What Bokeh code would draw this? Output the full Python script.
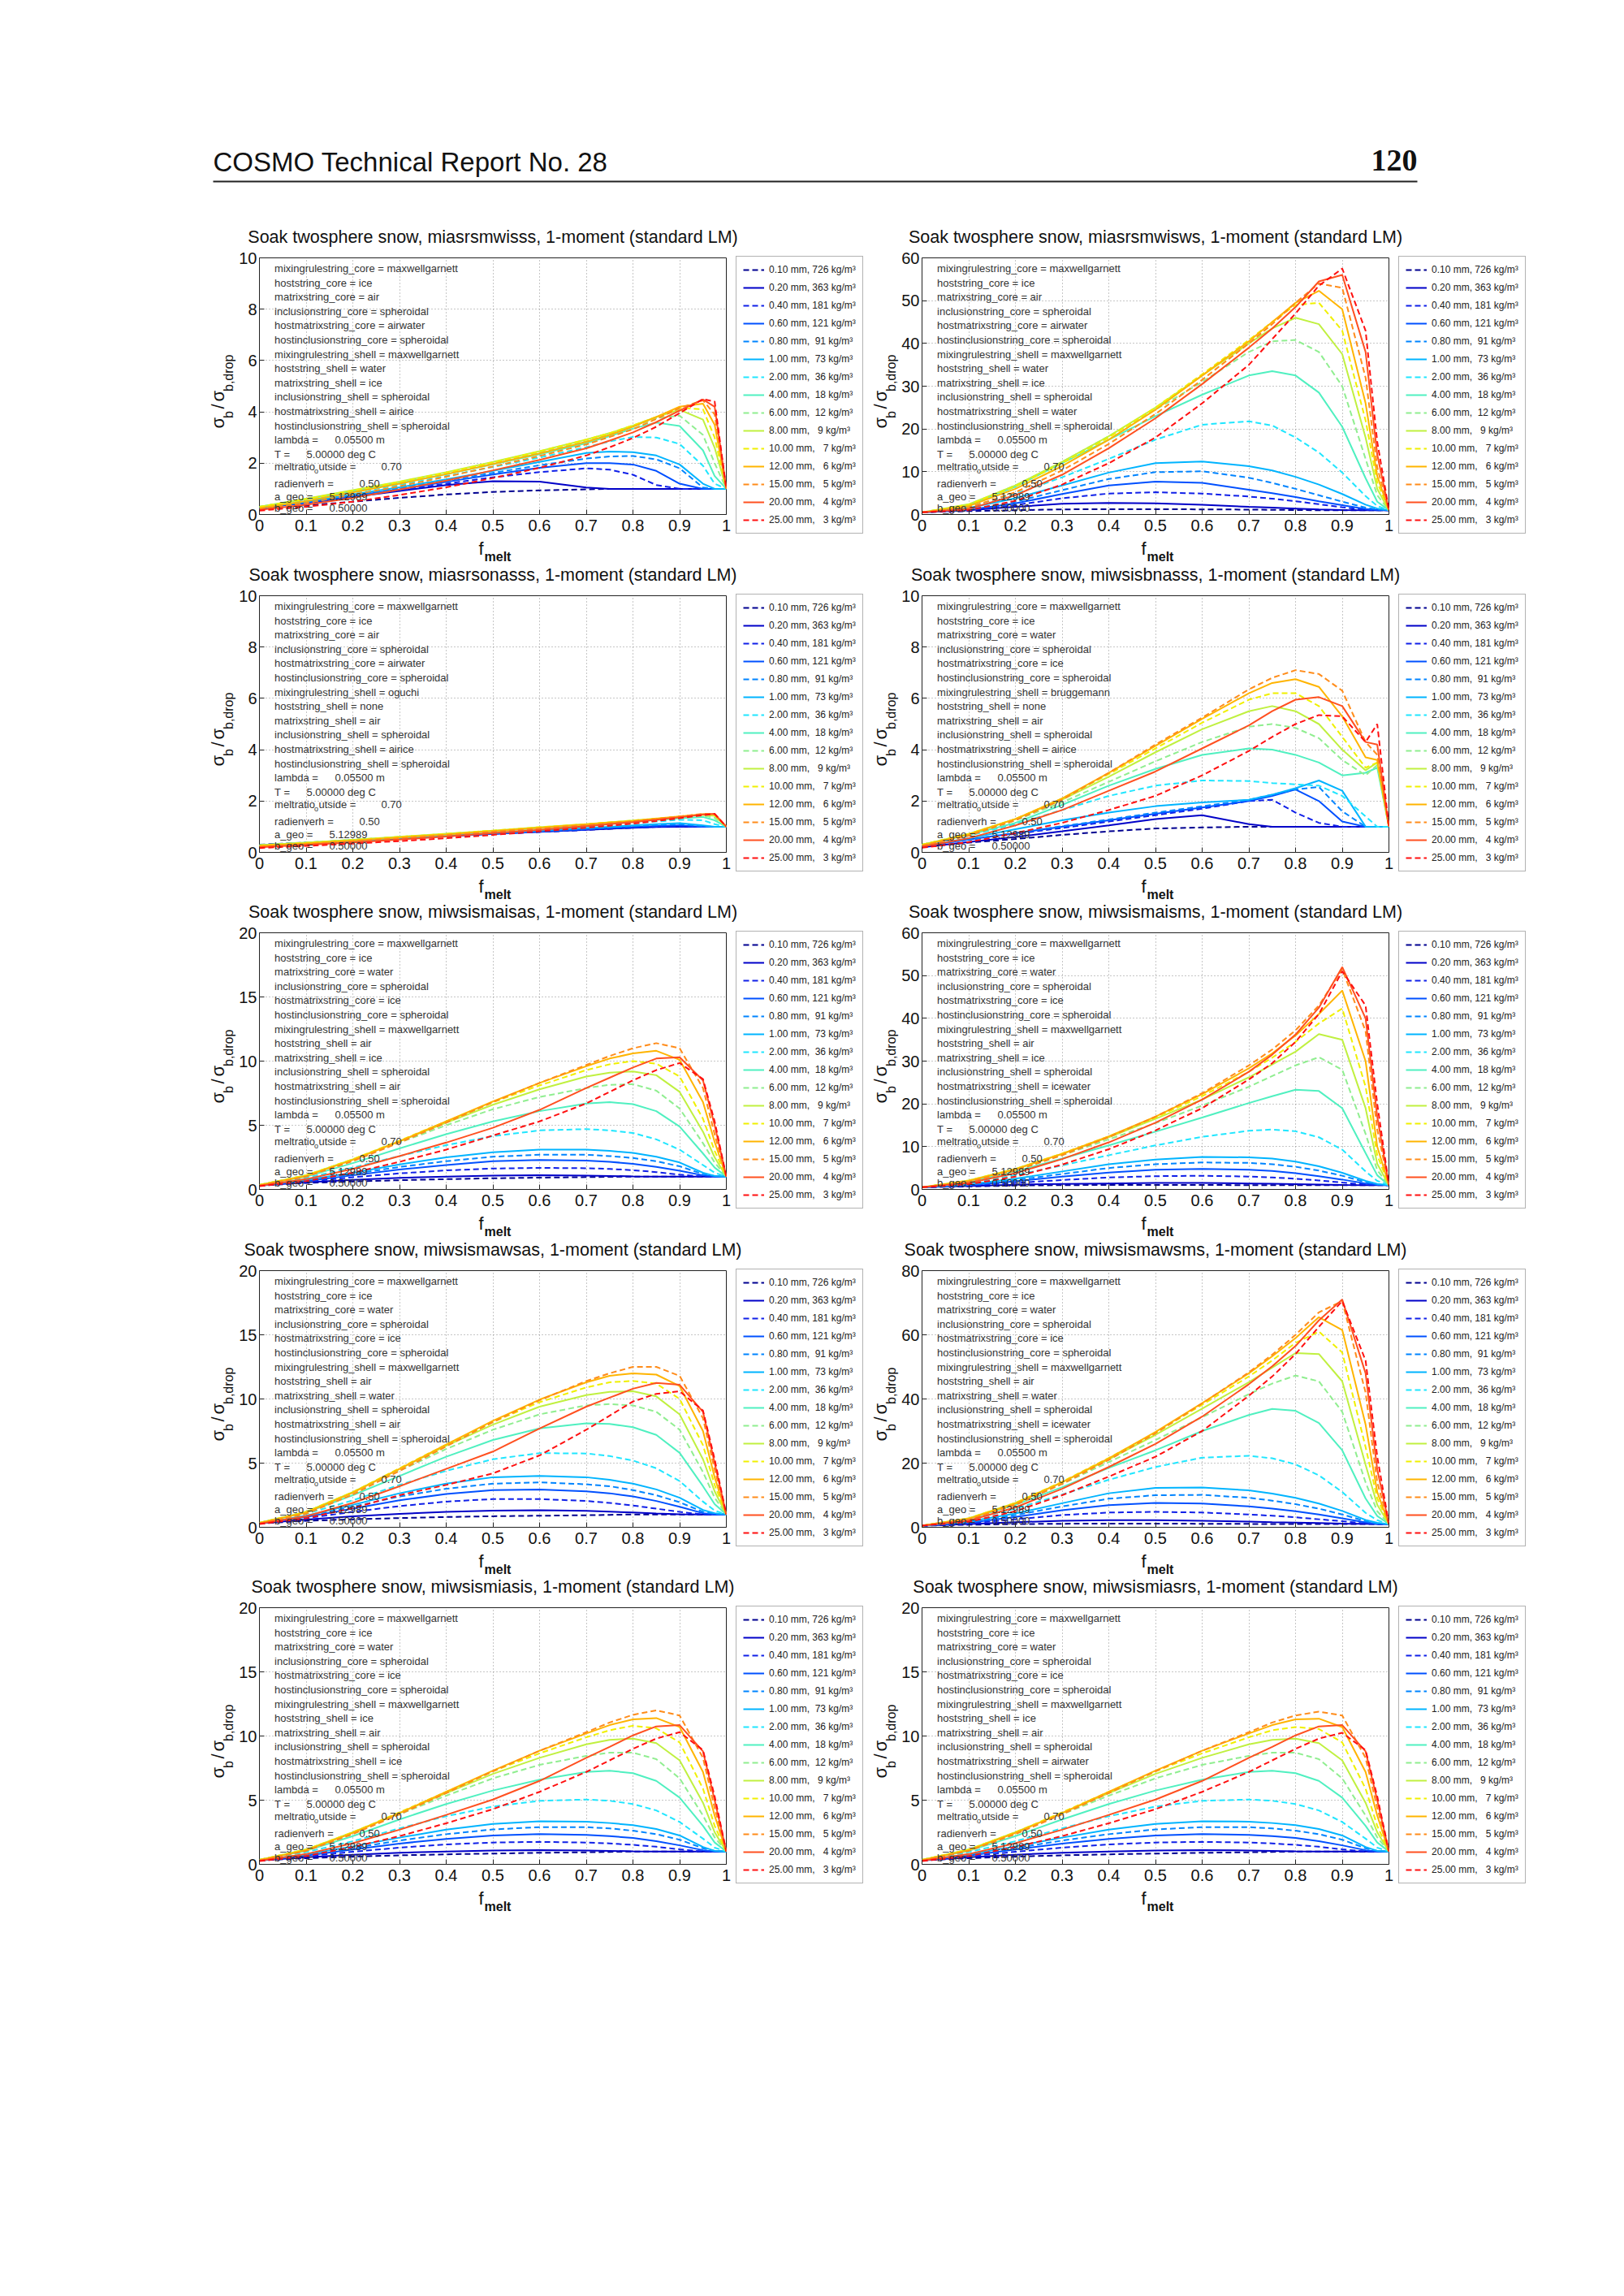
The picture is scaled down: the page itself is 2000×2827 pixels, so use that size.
from math import pi
from bokeh.plotting import figure
from bokeh.layouts import column, row
from bokeh.models import Range1d, FixedTicker, Label, Legend, LegendItem
from bokeh.embed import file_html
from bokeh.resources import INLINE

FMELT = [0, 0.1, 0.2, 0.3, 0.4, 0.5, 0.6, 0.7, 0.75, 0.8, 0.85, 0.9, 0.95, 0.975, 1.0]

XTICKS = [0, 0.1, 0.2, 0.3, 0.4, 0.5, 0.6, 0.7, 0.8, 0.9, 1]
XTICK_LABELS = ["0", "0.1", "0.2", "0.3", "0.4", "0.5", "0.6", "0.7", "0.8", "0.9", "1"]

DIAM = ["0.10", "0.20", "0.40", "0.60", "0.80", "1.00", "2.00", "4.00", "6.00", "8.00",
        "10.00", "12.00", "15.00", "20.00", "25.00"]
RHO = [726, 363, 181, 121, 91, 73, 36, 18, 12, 9, 7, 6, 5, 4, 3]
COLORS = ["#000090", "#0000c8", "#1020e8", "#0050ff", "#0084ff", "#00b4ff", "#20e6ff", "#50f0c0",
          "#90ee90", "#c0f040", "#f0f000", "#ffb400", "#ff8c1a", "#ff5020", "#ff1010"]

TITLES = ["miasrsmwisss", "miasrsmwisws", "miasrsonasss", "miwsisbnasss", "miwsismaisas",
          "miwsismaisms", "miwsismawsas", "miwsismawsms", "miwsismiasis", "miwsismiasrs"]
YMAX = [10, 60, 10, 10, 20, 60, 20, 80, 20, 20]
YSTEP = [2, 10, 2, 2, 5, 10, 5, 20, 5, 5]

KEYS = ["mixingrulestring_core", "hoststring_core", "matrixstring_core", "inclusionstring_core",
        "hostmatrixstring_core", "hostinclusionstring_core", "mixingrulestring_shell",
        "hoststring_shell", "matrixstring_shell", "inclusionstring_shell",
        "hostmatrixstring_shell", "hostinclusionstring_shell"]
SETTINGS = [
    ["maxwellgarnett", "ice", "air", "spheroidal", "airwater", "spheroidal",
     "maxwellgarnett", "water", "ice", "spheroidal", "airice", "spheroidal"],
    ["maxwellgarnett", "ice", "air", "spheroidal", "airwater", "spheroidal",
     "maxwellgarnett", "water", "ice", "spheroidal", "water", "spheroidal"],
    ["maxwellgarnett", "ice", "air", "spheroidal", "airwater", "spheroidal",
     "oguchi", "none", "air", "spheroidal", "airice", "spheroidal"],
    ["maxwellgarnett", "ice", "water", "spheroidal", "ice", "spheroidal",
     "bruggemann", "none", "air", "spheroidal", "airice", "spheroidal"],
    ["maxwellgarnett", "ice", "water", "spheroidal", "ice", "spheroidal",
     "maxwellgarnett", "air", "ice", "spheroidal", "air", "spheroidal"],
    ["maxwellgarnett", "ice", "water", "spheroidal", "ice", "spheroidal",
     "maxwellgarnett", "air", "ice", "spheroidal", "icewater", "spheroidal"],
    ["maxwellgarnett", "ice", "water", "spheroidal", "ice", "spheroidal",
     "maxwellgarnett", "air", "water", "spheroidal", "air", "spheroidal"],
    ["maxwellgarnett", "ice", "water", "spheroidal", "ice", "spheroidal",
     "maxwellgarnett", "air", "water", "spheroidal", "icewater", "spheroidal"],
    ["maxwellgarnett", "ice", "water", "spheroidal", "ice", "spheroidal",
     "maxwellgarnett", "ice", "air", "spheroidal", "ice", "spheroidal"],
    ["maxwellgarnett", "ice", "water", "spheroidal", "ice", "spheroidal",
     "maxwellgarnett", "ice", "air", "spheroidal", "airwater", "spheroidal"],
]
PARAM_NAMES = ["lambda =", "T =", "radienverh =", "a_geo =", "b_geo ="]
PARAM_VALUES = ["0.05500 m", "5.00000 deg C", "0.50", "5.12989", "0.50000"]
MELTRATIO = "0.70"

S1 = [
    [0.2, 0.35, 0.5, 0.65, 0.78, 0.88, 0.94, 0.98, 1.0, 1.0, 1.0, 1.0, 1.0, 1.0, 1.0],
    [0.25, 0.45, 0.68, 0.92, 1.15, 1.3, 1.28, 1.05, 1.0, 1.0, 1.0, 1.0, 1.0, 1.0, 1.0],
    [0.25, 0.45, 0.7, 0.95, 1.2, 1.45, 1.65, 1.8, 1.75, 1.55, 1.15, 1.0, 1.0, 1.0, 1.0],
    [0.25, 0.46, 0.72, 0.98, 1.27, 1.56, 1.82, 2.0, 2.0, 1.95, 1.7, 1.2, 1.0, 1.0, 1.0],
    [0.25, 0.47, 0.74, 1.02, 1.32, 1.62, 1.92, 2.18, 2.26, 2.28, 2.15, 1.8, 1.05, 1.0, 1.0],
    [0.28, 0.5, 0.78, 1.06, 1.37, 1.7, 2.05, 2.4, 2.45, 2.43, 2.3, 1.95, 1.2, 1.0, 1.0],
    [0.28, 0.55, 0.85, 1.15, 1.5, 1.85, 2.22, 2.62, 2.85, 3.02, 3.0, 2.75, 1.9, 1.2, 1.0],
    [0.3, 0.6, 0.9, 1.22, 1.57, 1.95, 2.35, 2.78, 3.05, 3.35, 3.58, 3.45, 2.5, 1.5, 1.0],
    [0.3, 0.6, 0.92, 1.25, 1.6, 2.0, 2.42, 2.85, 3.12, 3.42, 3.75, 3.85, 3.1, 2.0, 1.0],
    [0.3, 0.62, 0.95, 1.28, 1.65, 2.05, 2.47, 2.92, 3.17, 3.47, 3.8, 4.08, 3.7, 2.6, 1.0],
    [0.3, 0.6, 0.93, 1.27, 1.63, 2.03, 2.46, 2.92, 3.17, 3.47, 3.8, 4.15, 4.1, 3.0, 1.0],
    [0.25, 0.52, 0.86, 1.2, 1.57, 1.97, 2.38, 2.83, 3.1, 3.42, 3.8, 4.2, 4.32, 3.5, 1.0],
    [0.2, 0.45, 0.77, 1.1, 1.47, 1.87, 2.28, 2.73, 3.02, 3.32, 3.72, 4.15, 4.45, 3.9, 1.0],
    [0.18, 0.38, 0.65, 0.97, 1.32, 1.72, 2.13, 2.58, 2.88, 3.2, 3.6, 4.05, 4.48, 4.2, 1.0],
    [0.15, 0.3, 0.5, 0.76, 1.06, 1.42, 1.82, 2.3, 2.62, 2.98, 3.42, 3.95, 4.5, 4.4, 1.0],
]
S2 = [
    [0.5, 0.8, 1.0, 1.2, 1.25, 1.25, 1.2, 1.15, 1.1, 1.05, 1.0, 1.0, 1.0, 1.0, 1.0],
    [0.5, 1.0, 1.8, 2.5, 2.7, 2.6, 2.3, 1.8, 1.6, 1.4, 1.2, 1.05, 1.0, 1.0, 1.0],
    [0.5, 1.0, 2.2, 3.8, 4.9, 5.2, 4.9, 4.2, 3.7, 3.1, 2.4, 1.7, 1.1, 1.0, 1.0],
    [0.5, 1.1, 2.6, 4.8, 6.8, 7.7, 7.4, 5.8, 5.0, 4.1, 3.1, 2.2, 1.3, 1.1, 1.0],
    [0.5, 1.2, 3.0, 5.7, 8.3, 9.9, 10.1, 8.6, 7.4, 6.0, 4.5, 3.0, 1.6, 1.2, 1.0],
    [0.5, 1.5, 3.8, 6.8, 9.8, 12.0, 12.4, 11.3, 10.3, 8.8, 7.0, 4.8, 2.3, 1.4, 1.0],
    [0.5, 1.8, 4.8, 8.7, 13.0, 17.5, 21.0, 21.8, 20.8, 18.0, 14.5, 9.8, 4.3, 2.0, 1.0],
    [0.5, 2.2, 6.5, 12.0, 17.5, 23.0, 28.0, 32.5, 33.5, 32.5, 28.5, 20.5, 8.5, 3.0, 1.0],
    [0.5, 2.3, 6.8, 12.3, 18.3, 24.5, 31.0, 38.0, 40.5, 40.8, 38.0, 30.0, 13.0, 4.5, 1.0],
    [0.5, 2.4, 6.8, 12.3, 18.3, 25.0, 32.5, 40.0, 43.5, 46.0, 44.5, 37.5, 18.0, 6.0, 1.0],
    [0.5, 2.3, 6.6, 12.0, 18.0, 25.0, 32.8, 40.8, 45.0, 49.0, 49.5, 43.0, 22.0, 7.5, 1.0],
    [0.5, 2.0, 6.0, 11.3, 17.5, 24.5, 32.5, 40.5, 45.0, 49.5, 52.3, 48.0, 26.0, 9.0, 1.0],
    [0.5, 1.6, 5.2, 10.3, 16.5, 23.5, 31.5, 40.0, 44.5, 49.5, 54.0, 53.0, 32.0, 11.0, 1.0],
    [0.5, 1.3, 4.5, 9.3, 15.5, 22.5, 30.5, 39.0, 43.5, 48.5, 54.5, 56.0, 38.0, 14.0, 1.0],
    [0.5, 1.0, 3.2, 7.0, 12.0, 18.0, 26.0, 35.0, 41.0, 47.0, 53.5, 57.5, 43.0, 17.0, 1.0],
]
S3 = [
    [0.3, 0.38, 0.47, 0.56, 0.64, 0.72, 0.8, 0.88, 0.92, 0.96, 1.0, 1.0, 1.0, 1.0, 1.0],
    [0.28, 0.36, 0.45, 0.54, 0.63, 0.72, 0.8, 0.88, 0.92, 0.96, 0.99, 1.0, 1.0, 1.0, 1.0],
    [0.27, 0.35, 0.44, 0.53, 0.62, 0.71, 0.8, 0.88, 0.93, 0.97, 1.0, 1.02, 1.0, 1.0, 1.0],
    [0.27, 0.35, 0.44, 0.53, 0.63, 0.72, 0.81, 0.9, 0.95, 0.99, 1.03, 1.05, 1.0, 1.0, 1.0],
    [0.27, 0.36, 0.45, 0.54, 0.64, 0.74, 0.83, 0.93, 0.98, 1.03, 1.07, 1.1, 1.02, 1.0, 1.0],
    [0.27, 0.36, 0.45, 0.55, 0.65, 0.75, 0.85, 0.95, 1.0, 1.05, 1.1, 1.14, 1.05, 1.0, 1.0],
    [0.28, 0.37, 0.47, 0.57, 0.68, 0.79, 0.9, 1.01, 1.07, 1.13, 1.2, 1.27, 1.25, 1.1, 1.0],
    [0.28, 0.38, 0.48, 0.59, 0.7, 0.82, 0.94, 1.06, 1.12, 1.19, 1.26, 1.33, 1.38, 1.25, 1.0],
    [0.28, 0.38, 0.49, 0.6, 0.72, 0.84, 0.96, 1.09, 1.15, 1.22, 1.29, 1.37, 1.43, 1.35, 1.0],
    [0.28, 0.38, 0.49, 0.61, 0.73, 0.85, 0.98, 1.1, 1.17, 1.24, 1.31, 1.39, 1.46, 1.42, 1.0],
    [0.27, 0.37, 0.48, 0.6, 0.72, 0.85, 0.98, 1.1, 1.17, 1.24, 1.32, 1.4, 1.48, 1.45, 1.0],
    [0.25, 0.35, 0.46, 0.58, 0.7, 0.83, 0.96, 1.09, 1.16, 1.23, 1.31, 1.4, 1.49, 1.48, 1.0],
    [0.22, 0.32, 0.43, 0.55, 0.67, 0.8, 0.93, 1.06, 1.13, 1.21, 1.3, 1.4, 1.5, 1.5, 1.0],
    [0.2, 0.29, 0.39, 0.5, 0.62, 0.75, 0.88, 1.02, 1.1, 1.18, 1.27, 1.37, 1.48, 1.5, 1.0],
    [0.17, 0.25, 0.34, 0.44, 0.55, 0.68, 0.82, 0.96, 1.04, 1.12, 1.22, 1.33, 1.45, 1.5, 1.0],
]
S4 = [
    [0.2, 0.38, 0.52, 0.68, 0.82, 0.93, 0.97, 1.0, 1.0, 1.0, 1.0, 1.0, 1.0, 1.0, 1.0],
    [0.2, 0.4, 0.6, 0.82, 1.05, 1.3, 1.45, 1.1, 1.0, 1.0, 1.0, 1.0, 1.0, 1.0, 1.0],
    [0.25, 0.5, 0.72, 0.95, 1.2, 1.45, 1.7, 2.0, 2.05, 1.55, 1.15, 1.0, 1.0, 1.0, 1.0],
    [0.25, 0.5, 0.75, 1.0, 1.25, 1.5, 1.75, 2.0, 2.2, 2.45, 2.0, 1.2, 1.0, 1.0, 1.0],
    [0.25, 0.5, 0.76, 1.02, 1.28, 1.55, 1.8, 2.05, 2.25, 2.45, 2.55, 1.6, 1.0, 1.0, 1.0],
    [0.25, 0.55, 0.9, 1.25, 1.55, 1.8, 1.95, 2.05, 2.25, 2.5, 2.8, 2.4, 1.0, 1.0, 1.0],
    [0.3, 0.65, 1.1, 1.65, 2.2, 2.6, 2.8, 2.78, 2.7, 2.65, 2.6, 2.2, 1.4, 1.0, 1.0],
    [0.3, 0.68, 1.15, 1.85, 2.6, 3.25, 3.8, 4.05, 4.0, 3.8, 3.5, 3.0, 3.1, 3.3, 1.0],
    [0.3, 0.7, 1.25, 1.95, 2.75, 3.55, 4.3, 4.9, 5.0, 4.85, 4.45, 3.6, 3.0, 3.4, 1.0],
    [0.3, 0.72, 1.3, 2.05, 2.95, 3.9, 4.8, 5.5, 5.7, 5.5, 5.0, 4.0, 3.2, 3.5, 1.0],
    [0.3, 0.72, 1.3, 2.1, 3.05, 4.05, 5.05, 5.95, 6.2, 6.2, 5.7, 4.5, 3.3, 3.5, 1.0],
    [0.28, 0.7, 1.3, 2.1, 3.1, 4.15, 5.2, 6.2, 6.6, 6.75, 6.45, 5.3, 3.7, 3.6, 1.0],
    [0.25, 0.65, 1.25, 2.05, 3.1, 4.2, 5.25, 6.35, 6.8, 7.1, 6.95, 6.3, 4.3, 3.8, 1.0],
    [0.22, 0.55, 1.05, 1.65, 2.4, 3.15, 4.05, 4.95, 5.5, 5.95, 6.05, 5.7, 4.3, 4.2, 1.0],
    [0.18, 0.4, 0.75, 1.15, 1.65, 2.2, 3.0, 3.95, 4.5, 5.0, 5.35, 5.3, 4.3, 5.0, 1.0],
]
S5 = [
    [0.3, 0.5, 0.62, 0.72, 0.8, 0.87, 0.92, 0.96, 0.98, 1.0, 1.0, 1.0, 1.0, 1.0, 1.0],
    [0.3, 0.55, 0.75, 0.9, 1.0, 1.07, 1.1, 1.08, 1.05, 1.02, 1.0, 1.0, 1.0, 1.0, 1.0],
    [0.3, 0.6, 0.95, 1.25, 1.48, 1.63, 1.68, 1.65, 1.6, 1.5, 1.35, 1.15, 1.0, 1.0, 1.0],
    [0.3, 0.65, 1.1, 1.55, 1.9, 2.2, 2.3, 2.25, 2.15, 2.0, 1.75, 1.45, 1.1, 1.0, 1.0],
    [0.3, 0.7, 1.2, 1.75, 2.2, 2.55, 2.7, 2.7, 2.6, 2.45, 2.2, 1.8, 1.2, 1.05, 1.0],
    [0.3, 0.75, 1.3, 1.95, 2.5, 2.9, 3.1, 3.1, 3.0, 2.85, 2.55, 2.1, 1.3, 1.05, 1.0],
    [0.35, 0.9, 1.7, 2.6, 3.45, 4.15, 4.6, 4.7, 4.6, 4.4, 3.9, 3.1, 1.9, 1.3, 1.0],
    [0.35, 1.0, 2.05, 3.2, 4.3, 5.3, 6.1, 6.7, 6.8, 6.65, 6.1, 4.9, 2.8, 1.7, 1.0],
    [0.35, 1.1, 2.3, 3.65, 5.0, 6.25, 7.2, 7.9, 8.15, 8.2, 7.7, 6.3, 3.6, 2.1, 1.0],
    [0.35, 1.1, 2.35, 3.75, 5.2, 6.6, 7.8, 8.8, 9.1, 9.2, 8.9, 7.6, 4.5, 2.5, 1.0],
    [0.35, 1.1, 2.35, 3.8, 5.3, 6.8, 8.1, 9.3, 9.75, 10.0, 9.8, 8.8, 5.5, 3.0, 1.0],
    [0.33, 1.05, 2.3, 3.75, 5.3, 6.85, 8.3, 9.6, 10.2, 10.6, 10.8, 10.1, 6.8, 3.7, 1.0],
    [0.3, 1.0, 2.2, 3.65, 5.2, 6.8, 8.3, 9.7, 10.4, 11.0, 11.4, 11.0, 7.9, 4.3, 1.0],
    [0.28, 0.8, 1.6, 2.6, 3.65, 4.8, 6.2, 7.9, 8.7, 9.5, 10.2, 10.3, 8.5, 5.0, 1.0],
    [0.25, 0.65, 1.3, 2.15, 3.1, 4.2, 5.3, 6.7, 7.6, 8.5, 9.3, 9.85, 8.6, 5.3, 1.0],
]
S6 = [
    [0.5, 0.7, 0.9, 1.0, 1.05, 1.05, 1.05, 1.0, 1.0, 1.0, 1.0, 1.0, 1.0, 1.0, 1.0],
    [0.5, 0.8, 1.1, 1.3, 1.4, 1.5, 1.5, 1.4, 1.35, 1.25, 1.15, 1.05, 1.0, 1.0, 1.0],
    [0.5, 0.9, 1.5, 2.2, 2.8, 3.1, 3.2, 3.0, 2.8, 2.5, 2.1, 1.6, 1.15, 1.05, 1.0],
    [0.5, 1.0, 1.9, 3.0, 3.95, 4.6, 4.8, 4.6, 4.3, 3.8, 3.1, 2.3, 1.4, 1.1, 1.0],
    [0.5, 1.1, 2.2, 3.6, 5.0, 5.9, 6.3, 6.2, 5.9, 5.3, 4.4, 3.2, 1.7, 1.2, 1.0],
    [0.5, 1.2, 2.5, 4.2, 5.9, 7.0, 7.6, 7.5, 7.2, 6.5, 5.4, 3.9, 2.0, 1.3, 1.0],
    [0.5, 1.5, 3.3, 5.6, 8.0, 10.3, 12.3, 13.7, 14.0, 13.6, 12.2, 9.3, 4.2, 2.0, 1.0],
    [0.5, 1.8, 4.2, 7.2, 10.3, 13.5, 16.8, 20.2, 21.8, 23.3, 23.0, 19.0, 8.5, 3.3, 1.0],
    [0.5, 2.0, 4.6, 8.0, 11.7, 15.5, 19.6, 24.0, 26.5, 29.0, 30.9, 28.0, 13.0, 4.5, 1.0],
    [0.5, 2.1, 4.8, 8.3, 12.2, 16.5, 21.0, 26.2, 29.2, 32.2, 36.3, 35.0, 19.0, 6.0, 1.0],
    [0.5, 2.1, 4.8, 8.4, 12.4, 16.8, 21.8, 27.5, 30.8, 34.5, 38.8, 42.3, 24.0, 8.0, 1.0],
    [0.5, 2.0, 4.7, 8.3, 12.4, 17.0, 22.3, 28.3, 31.8, 36.0, 41.0, 46.5, 30.0, 10.0, 1.0],
    [0.5, 1.8, 4.4, 8.0, 12.2, 17.0, 22.5, 29.0, 32.7, 37.2, 43.0, 51.5, 37.0, 14.0, 1.0],
    [0.5, 1.5, 3.8, 7.1, 11.0, 15.6, 21.0, 27.5, 31.5, 36.2, 42.5, 52.0, 40.0, 17.0, 1.0],
    [0.5, 1.2, 3.0, 5.8, 9.4, 13.8, 19.0, 25.7, 29.5, 34.5, 41.0, 51.0, 43.0, 20.0, 1.0],
]
S7 = [
    [0.3, 0.5, 0.62, 0.72, 0.8, 0.86, 0.9, 0.94, 0.97, 1.0, 1.0, 1.0, 1.0, 1.0, 1.0],
    [0.3, 0.6, 0.85, 1.05, 1.2, 1.3, 1.33, 1.28, 1.22, 1.15, 1.08, 1.02, 1.0, 1.0, 1.0],
    [0.3, 0.7, 1.2, 1.65, 2.0, 2.2, 2.2, 2.05, 1.9, 1.7, 1.45, 1.2, 1.0, 1.0, 1.0],
    [0.3, 0.8, 1.45, 2.1, 2.6, 2.9, 2.95, 2.8, 2.65, 2.4, 2.05, 1.6, 1.1, 1.0, 1.0],
    [0.3, 0.85, 1.6, 2.4, 3.0, 3.4, 3.5, 3.35, 3.2, 2.9, 2.5, 1.95, 1.2, 1.05, 1.0],
    [0.3, 0.9, 1.75, 2.65, 3.4, 3.9, 4.0, 3.9, 3.7, 3.4, 2.95, 2.3, 1.35, 1.1, 1.0],
    [0.35, 1.05, 2.1, 3.3, 4.4, 5.3, 5.78, 5.75, 5.55, 5.2, 4.6, 3.6, 2.0, 1.3, 1.0],
    [0.35, 1.15, 2.5, 4.0, 5.5, 6.8, 7.7, 8.1, 8.05, 7.8, 7.2, 5.8, 3.2, 1.8, 1.0],
    [0.35, 1.2, 2.7, 4.4, 6.1, 7.6, 8.8, 9.5, 9.6, 9.5, 9.0, 7.6, 4.3, 2.3, 1.0],
    [0.35, 1.2, 2.75, 4.55, 6.35, 8.0, 9.4, 10.3, 10.55, 10.6, 10.2, 8.8, 5.3, 2.8, 1.0],
    [0.35, 1.2, 2.75, 4.6, 6.45, 8.2, 9.75, 10.9, 11.3, 11.4, 11.2, 10.0, 6.4, 3.3, 1.0],
    [0.33, 1.15, 2.7, 4.55, 6.45, 8.3, 9.95, 11.3, 11.8, 12.0, 11.9, 11.0, 7.5, 3.9, 1.0],
    [0.3, 1.05, 2.55, 4.4, 6.3, 8.2, 9.9, 11.4, 12.0, 12.5, 12.5, 11.8, 8.5, 4.5, 1.0],
    [0.28, 0.85, 1.9, 3.2, 4.55, 5.9, 7.7, 9.4, 10.1, 10.8, 11.25, 11.1, 9.0, 5.0, 1.0],
    [0.25, 0.7, 1.5, 2.5, 3.3, 4.2, 5.6, 7.6, 8.7, 9.8, 10.4, 10.6, 9.1, 5.3, 1.0],
]
S8 = [
    [0.5, 0.8, 1.0, 1.1, 1.15, 1.15, 1.1, 1.05, 1.0, 1.0, 1.0, 1.0, 1.0, 1.0, 1.0],
    [0.5, 1.0, 1.6, 2.0, 2.2, 2.2, 2.0, 1.8, 1.6, 1.45, 1.3, 1.15, 1.05, 1.0, 1.0],
    [0.5, 1.2, 2.5, 3.8, 4.6, 4.8, 4.6, 4.0, 3.6, 3.1, 2.5, 1.9, 1.2, 1.05, 1.0],
    [0.5, 1.4, 3.2, 5.3, 6.9, 7.6, 7.4, 6.5, 5.8, 5.0, 4.0, 2.8, 1.5, 1.1, 1.0],
    [0.5, 1.6, 3.8, 6.5, 8.9, 10.0, 10.1, 9.2, 8.3, 7.2, 5.8, 4.0, 1.9, 1.2, 1.0],
    [0.5, 1.8, 4.3, 7.5, 10.6, 12.3, 12.4, 11.5, 10.5, 9.2, 7.4, 5.1, 2.3, 1.4, 1.0],
    [0.5, 2.2, 5.8, 10.2, 14.8, 18.8, 21.7, 22.3, 21.5, 19.6, 16.2, 11.0, 4.5, 2.2, 1.0],
    [0.5, 2.6, 7.0, 12.5, 18.5, 24.0, 30.0, 35.0, 36.9, 36.3, 32.5, 24.0, 9.0, 3.5, 1.0],
    [0.5, 2.7, 7.3, 13.5, 20.3, 27.2, 34.3, 41.5, 44.8, 47.3, 45.5, 36.0, 14.0, 5.0, 1.0],
    [0.5, 2.8, 7.6, 14.0, 21.2, 28.8, 37.0, 45.2, 49.8, 54.3, 54.0, 45.5, 19.5, 7.0, 1.0],
    [0.5, 2.8, 7.6, 14.2, 21.6, 29.5, 38.2, 47.0, 52.0, 57.5, 61.0, 54.5, 25.0, 9.0, 1.0],
    [0.5, 2.7, 7.4, 14.0, 21.5, 29.7, 38.7, 48.0, 53.3, 59.0, 65.5, 61.5, 32.0, 11.0, 1.0],
    [0.5, 2.4, 7.0, 13.5, 21.0, 29.3, 38.6, 48.3, 53.8, 60.0, 67.0, 70.5, 42.0, 14.0, 1.0],
    [0.5, 2.1, 6.2, 12.0, 18.8, 26.0, 34.5, 44.6, 50.2, 56.5, 64.5, 71.0, 48.0, 18.0, 1.0],
    [0.5, 1.7, 5.0, 10.0, 15.8, 22.0, 30.0, 41.0, 47.0, 54.0, 62.5, 70.5, 52.0, 22.0, 1.0],
]
S9 = [
    [0.3, 0.48, 0.6, 0.7, 0.78, 0.84, 0.9, 0.94, 0.97, 1.0, 1.0, 1.0, 1.0, 1.0, 1.0],
    [0.3, 0.55, 0.75, 0.9, 1.0, 1.07, 1.1, 1.08, 1.05, 1.02, 1.0, 1.0, 1.0, 1.0, 1.0],
    [0.3, 0.62, 0.98, 1.3, 1.55, 1.7, 1.75, 1.7, 1.63, 1.52, 1.37, 1.17, 1.0, 1.0, 1.0],
    [0.3, 0.68, 1.15, 1.62, 1.98, 2.25, 2.35, 2.3, 2.2, 2.05, 1.8, 1.48, 1.1, 1.0, 1.0],
    [0.3, 0.72, 1.27, 1.85, 2.35, 2.72, 2.9, 2.9, 2.8, 2.62, 2.35, 1.92, 1.25, 1.05, 1.0],
    [0.3, 0.78, 1.4, 2.08, 2.7, 3.15, 3.35, 3.33, 3.22, 3.05, 2.75, 2.25, 1.35, 1.05, 1.0],
    [0.35, 0.95, 1.8, 2.8, 3.75, 4.5, 4.95, 5.05, 4.95, 4.7, 4.2, 3.3, 2.0, 1.3, 1.0],
    [0.35, 1.05, 2.2, 3.5, 4.7, 5.75, 6.6, 7.2, 7.3, 7.1, 6.5, 5.2, 3.0, 1.7, 1.0],
    [0.35, 1.15, 2.45, 3.9, 5.35, 6.7, 7.75, 8.45, 8.7, 8.7, 8.2, 6.7, 3.8, 2.1, 1.0],
    [0.35, 1.15, 2.5, 4.0, 5.55, 7.05, 8.3, 9.35, 9.7, 9.8, 9.45, 8.1, 4.8, 2.5, 1.0],
    [0.35, 1.15, 2.5, 4.05, 5.65, 7.25, 8.65, 9.9, 10.45, 10.8, 10.6, 9.5, 5.9, 3.0, 1.0],
    [0.33, 1.1, 2.45, 4.0, 5.65, 7.3, 8.85, 10.2, 10.85, 11.3, 11.4, 10.7, 7.2, 3.8, 1.0],
    [0.3, 1.05, 2.35, 3.9, 5.55, 7.25, 8.85, 10.3, 11.05, 11.65, 12.0, 11.6, 8.3, 4.4, 1.0],
    [0.28, 0.8, 1.65, 2.7, 3.85, 5.05, 6.5, 8.3, 9.15, 10.05, 10.75, 10.85, 8.8, 5.0, 1.0],
    [0.25, 0.65, 1.35, 2.2, 3.2, 4.3, 5.65, 7.2, 8.1, 9.0, 9.8, 10.3, 8.9, 5.3, 1.0],
]
S10 = [
    [0.3, 0.48, 0.6, 0.7, 0.78, 0.84, 0.9, 0.94, 0.97, 1.0, 1.0, 1.0, 1.0, 1.0, 1.0],
    [0.3, 0.55, 0.75, 0.9, 1.0, 1.07, 1.1, 1.08, 1.05, 1.02, 1.0, 1.0, 1.0, 1.0, 1.0],
    [0.3, 0.62, 0.98, 1.3, 1.55, 1.7, 1.75, 1.7, 1.63, 1.52, 1.37, 1.17, 1.0, 1.0, 1.0],
    [0.3, 0.68, 1.15, 1.62, 1.98, 2.25, 2.35, 2.3, 2.2, 2.05, 1.8, 1.48, 1.1, 1.0, 1.0],
    [0.3, 0.72, 1.27, 1.85, 2.35, 2.72, 2.9, 2.9, 2.8, 2.62, 2.35, 1.92, 1.25, 1.05, 1.0],
    [0.3, 0.78, 1.4, 2.08, 2.7, 3.15, 3.35, 3.33, 3.22, 3.05, 2.75, 2.25, 1.35, 1.05, 1.0],
    [0.35, 0.95, 1.8, 2.8, 3.75, 4.5, 4.95, 5.05, 4.95, 4.7, 4.2, 3.3, 2.0, 1.3, 1.0],
    [0.35, 1.05, 2.2, 3.5, 4.7, 5.75, 6.6, 7.2, 7.3, 7.1, 6.5, 5.2, 3.0, 1.7, 1.0],
    [0.35, 1.15, 2.45, 3.9, 5.35, 6.7, 7.75, 8.45, 8.7, 8.7, 8.2, 6.7, 3.8, 2.1, 1.0],
    [0.35, 1.15, 2.5, 4.0, 5.55, 7.05, 8.3, 9.35, 9.7, 9.8, 9.45, 8.1, 4.8, 2.5, 1.0],
    [0.35, 1.15, 2.5, 4.05, 5.65, 7.25, 8.65, 9.9, 10.45, 10.7, 10.55, 9.5, 5.9, 3.0, 1.0],
    [0.33, 1.1, 2.45, 4.0, 5.65, 7.3, 8.85, 10.2, 10.85, 11.3, 11.35, 10.7, 7.2, 3.8, 1.0],
    [0.3, 1.05, 2.35, 3.9, 5.55, 7.25, 8.85, 10.3, 11.05, 11.6, 11.9, 11.6, 8.3, 4.4, 1.0],
    [0.28, 0.8, 1.65, 2.7, 3.85, 5.05, 6.5, 8.3, 9.15, 10.05, 10.75, 10.85, 8.8, 5.0, 1.0],
    [0.25, 0.65, 1.35, 2.2, 3.2, 4.3, 5.65, 7.2, 8.1, 9.0, 9.8, 10.25, 8.9, 5.3, 1.0],
]
CURVES = [S1, S2, S3, S4, S5, S6, S7, S8, S9, S10]

FW, FH = 575, 316          # axes box in pixels
LB, TB, BB, RB = 28, 12, 29, 8   # plot borders: left, top, bottom, right
TH = 26                    # title strip height
FONT = "Liberation Sans"
NB = "\u00a0"
MID = 0.3465               # (ascent - descent) / 2 of the font, in em


def strip(w, h, top=0, bottom=0, yspan=None):
    # blank figure, 1 data unit = 1 pixel
    s = figure(width=w, height=h, x_range=Range1d(0, w), y_range=Range1d(0, yspan or h),
               min_border_left=0, min_border_right=0, min_border_top=top, min_border_bottom=bottom,
               title=None, toolbar_location=None, output_backend="svg",
               x_axis_type=None, y_axis_type=None)
    s.grid.visible = False
    s.outline_line_color = None
    return s


def txt(s, h, x, base, text, size, font=FONT, **kw):
    # base: baseline position in pixels from the top of the strip
    kw.setdefault("text_color", "#111111")
    s.add_layout(Label(x=x, y=h - (base - MID * size), text=text, text_font=font,
                       text_font_size=f"{size}px", text_baseline="middle", **kw))


def put(p, ymax, dx, dy, text, size, **kw):
    # dx, dy: pixels from the axes' top-left corner
    kw.setdefault("text_color", "#333333")
    p.add_layout(Label(x=dx / FW, y=ymax * (1 - dy / FH), text=text, text_font=FONT,
                       text_font_size=f"{size}px", text_baseline="middle", **kw))


def plot(k):
    ymax = YMAX[k]
    p = figure(frame_width=FW, frame_height=FH, x_range=Range1d(0, 1), y_range=Range1d(0, ymax),
               min_border_left=LB, min_border_right=RB, min_border_top=TB,
               min_border_bottom=BB, title=None, toolbar_location=None, output_backend="svg")
    p.outline_line_color = "#222222"
    p.xaxis.ticker = FixedTicker(ticks=XTICKS)
    p.xaxis.major_label_overrides = dict(zip(XTICKS, XTICK_LABELS))
    p.yaxis.ticker = FixedTicker(ticks=list(range(0, ymax + 1, YSTEP[k])))
    for ax in p.axis:
        ax.axis_line_color = None
        ax.major_tick_in = 6
        ax.major_tick_out = 0
        ax.minor_tick_line_color = None
        ax.major_tick_line_color = "#222222"
        ax.major_label_text_font = FONT
        ax.major_label_text_font_size = "20px"
        ax.major_label_text_color = "#111111"
    p.xaxis.major_label_standoff = 6
    p.yaxis.major_label_standoff = 3
    p.grid.grid_line_color = "#8c8c8c"
    p.grid.grid_line_dash = "1 3"

    for j, ys in enumerate(CURVES[k]):
        dash = "7 4" if j % 2 == 0 else "solid"
        p.line(FMELT, ys, line_color=COLORS[j], line_width=2, line_dash=dash)

    # settings block inside the axes
    for i, key in enumerate(KEYS):
        put(p, ymax, 18.6, 13 + 17.6 * i, f"{key} = {SETTINGS[k][i]}", 13)
    rows_dy = [224.2, 241.8, 278, 294, 307.5]
    vals_dx = [93, 58, 123, 86, 86]
    for name, val, dy, vx in zip(PARAM_NAMES, PARAM_VALUES, rows_dy, vals_dx):
        put(p, ymax, 18.6, dy, name, 13)
        put(p, ymax, vx, dy, val, 13)
    put(p, ymax, 18.6, 257, "meltratio", 13)
    put(p, ymax, 67.5, 262, "o", 9)
    put(p, ymax, 73, 257, "utside =", 13)
    put(p, ymax, 150, 257, MELTRATIO, 13)
    return p


def legend_strip(lw, h):
    s = strip(lw, h)
    items = []
    for j in range(len(DIAM)):
        dash = "7 4" if j % 2 == 0 else "solid"
        # legend proxy: same line style, drawn outside the visible range
        r = s.line([-20, -10], [-10, -10], line_color=COLORS[j], line_width=2, line_dash=dash)
        lbl = f"{DIAM[j]} mm, {RHO[j]:>3d} kg/m³".replace(" ", NB)
        items.append(LegendItem(label=lbl, renderers=[r]))
    leg = Legend(items=items, location=(12 - RB, h - TB - 340), margin=0, padding=8, spacing=6,
                 glyph_width=26, glyph_height=16, label_height=16, label_standoff=6,
                 label_text_font=FONT, label_text_font_size="12px", label_text_color="#222222",
                 border_line_color="#666666", background_fill_alpha=1)
    s.add_layout(leg)
    return s


def cell(k, frame_left, right, xh):
    title = strip(frame_left + FW + right, TH)
    txt(title, TH, frame_left + FW / 2, 20,
        f"Soak twosphere snow, {TITLES[k]}, 1-moment (standard LM)", 21.5, text_align="center")

    # y label strip shares the axes' vertical borders, its y data runs over the axes height
    yw = frame_left - LB
    ylab = strip(yw, TB + FH + BB, top=TB, bottom=BB, yspan=FH)
    for piece, size, dx, dy in [("σ", 22, -43, 210), ("b", 16, -32, 197.5), ("/", 22, -43, 186),
                                ("σ", 22, -43, 177), ("b,drop", 16, -32, 164.5)]:
        ylab.add_layout(Label(x=yw + LB + dx - MID * size, y=FH - dy, text=piece, angle=pi / 2,
                              text_font=FONT, text_font_size=f"{size}px", text_color="#111111",
                              text_baseline="middle"))

    xlab = strip(frame_left + FW + RB, xh)
    txt(xlab, xh, frame_left + 270, 20.5, "f", 22)
    txt(xlab, xh, frame_left + 277, 28.5, "melt", 16, text_font_style="bold")
    left = column(row(ylab, plot(k)), xlab)
    return column(title, row(left, legend_strip(right - RB, TB + FH + BB + xh)))


HW, HH = 1890, 279
head = strip(HW, HH)
txt(head, HH, 262, 210, "COSMO Technical Report No. 28", 33)
txt(head, HH, 1745, 210, "120", 38, font="Liberation Serif", text_font_style="bold",
    text_align="right")
head.segment(x0=[262], y0=[HH - 223], x1=[1745], y1=[HH - 223], line_width=2, line_color="#222222")

rows = []
for r in range(5):
    xh = 33 if r % 2 == 0 else 32
    rows.append(row(cell(2 * r, 319, 176, xh), cell(2 * r + 1, 65, 180, xh)))

page = column(head, *rows)
open("out.html", "w").write(file_html(page, INLINE, "COSMO Technical Report No. 28"))
